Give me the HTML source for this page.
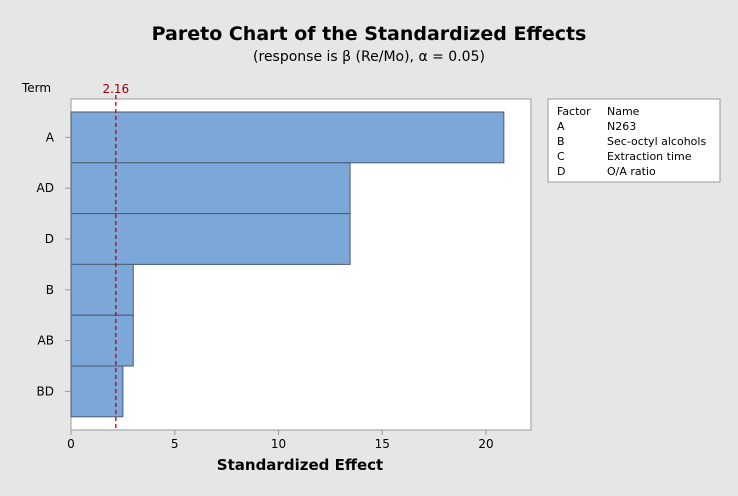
<!DOCTYPE html>
<html><head><meta charset="utf-8"><style>
body{margin:0;background:#e8e8e8;width:738px;height:492px;overflow:hidden;font-family:"DejaVu Sans","Liberation Sans",sans-serif}
svg text{font-family:"DejaVu Sans","Liberation Sans",sans-serif}
</style></head><body>
<svg width="738" height="492">
<rect x="0" y="0" width="738" height="492" fill="#e6e6e6"/>
<text x="369" y="40" text-anchor="middle" font-size="19" font-weight="bold">Pareto Chart of the Standardized Effects</text>
<text x="369" y="61" text-anchor="middle" font-size="14">(response is β (Re/Mo), α = 0.05)</text>
<text x="22" y="92" font-size="12">Term</text>
<rect x="71" y="99" width="460" height="331" fill="#fff" stroke="#999"/>
<g id="bars"></g>
<g id="axes"></g>
<text x="300" y="470" text-anchor="middle" font-size="15" font-weight="bold">Standardized Effect</text>
<g>
<rect x="548" y="99" width="172" height="83" fill="#fff" stroke="#999"/>
<g font-size="11">
<text x="557" y="115">Factor</text><text x="607" y="115">Name</text>
<text x="557" y="130">A</text><text x="607" y="130">N263</text>
<text x="557" y="145">B</text><text x="607" y="145">Sec-octyl alcohols</text>
<text x="557" y="160">C</text><text x="607" y="160">Extraction time</text>
<text x="557" y="175">D</text><text x="607" y="175">O/A ratio</text>
</g></g>
</svg>
<script>
const terms=["A","AD","D","B","AB","BD"];
const effects=[20.86,13.45,13.45,3.0,3.0,2.5];
const xTicks=[0,5,10,15,20];
const refValue=2.16;
const ns="http://www.w3.org/2000/svg";
const x0=71,pxPerUnit=20.75,barTop=112,barH=50.8,plotTop=99,plotBottom=430;
const xs=v=>x0+v*pxPerUnit;
const bars=document.getElementById('bars'),axes=document.getElementById('axes');
function mk(tag,attrs,parent){const e=document.createElementNS(ns,tag);for(const k in attrs)e.setAttribute(k,attrs[k]);parent.appendChild(e);return e;}
terms.forEach((t,i)=>{
 const y=barTop+i*barH;
 const r=mk('rect',{x:x0,y:y,width:xs(effects[i])-x0,height:barH,fill:'#7ba7d9',stroke:'#4a5a70','stroke-width':1},bars);
 
 
 const tk=mk('line',{x1:x0-6,x2:x0,y1:y+barH/2,y2:y+barH/2,stroke:'#999'},axes);
 
 
 const lb=mk('text',{x:x0-17,y:y+barH/2+4,'text-anchor':'end','font-size':12},axes);
 lb.textContent=t;
 
 
});
xTicks.forEach(v=>{
 const tk=mk('line',{x1:xs(v),x2:xs(v),y1:plotBottom,y2:plotBottom+5,stroke:'#999'},axes);
 
 
 const lb=mk('text',{x:xs(v),y:plotBottom+18,'text-anchor':'middle','font-size':12},axes);
 lb.textContent=v;
 
 
});
const rl=mk('line',{x1:xs(refValue),x2:xs(refValue),y1:plotTop-4,y2:plotBottom,stroke:'#c00000','stroke-dasharray':'4,3','stroke-width':1.3},axes);


const rt=mk('text',{x:xs(refValue),y:plotTop-6,'text-anchor':'middle','font-size':12,fill:'#a00000'},axes);
rt.textContent=refValue;


bars.parentNode.appendChild(rl);
</script>
</body></html>
